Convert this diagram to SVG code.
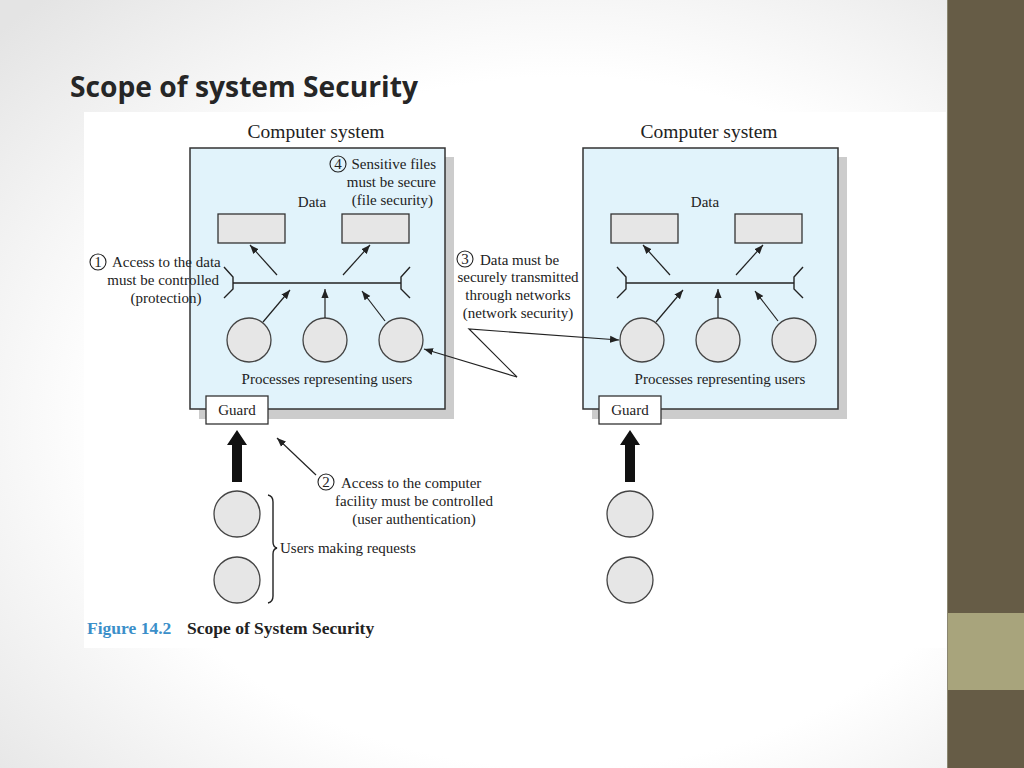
<svg xmlns="http://www.w3.org/2000/svg" width="1024" height="768" viewBox="0 0 1024 768">
<defs>
<radialGradient id="bg" cx="0.55" cy="0.55" r="0.75">
<stop offset="0.6" stop-color="#ffffff"/>
<stop offset="1" stop-color="#e4e4e4"/>
</radialGradient>
<marker id="ah" viewBox="0 0 10 10" refX="10" refY="5" markerWidth="9" markerHeight="9" markerUnits="userSpaceOnUse" orient="auto">
<path d="M0,1 L10,5 L0,9 z" fill="#222"/>
</marker>
<style>
.t{font-family:"Liberation Serif","Times New Roman",serif;fill:#222;font-size:15px}
.big{font-size:19.5px}
.box{fill:#e1f3fb;stroke:#333;stroke-width:1.5}
.sh{fill:#cccccc}
.dr{fill:#e6e6e6;stroke:#333;stroke-width:1.3}
.pc{fill:#e6e6e6;stroke:#444;stroke-width:1.3}
.ln{stroke:#222;stroke-width:1.4;fill:none}
.ar{stroke:#222;stroke-width:1.2;fill:none;marker-end:url(#ah)}
.num{fill:none;stroke:#222;stroke-width:1.1}
.g{fill:#fff;stroke:#333;stroke-width:1.3}
.cap{font-family:"Liberation Serif","Times New Roman",serif;font-weight:bold;font-size:17.5px}
</style>
</defs>
<rect width="1024" height="768" fill="url(#bg)"/>
<rect x="84" y="112" width="862" height="536" fill="#ffffff"/>
<!-- sidebar -->
<rect x="947" y="0" width="77" height="768" fill="#665c46"/>
<rect x="947" y="613" width="77" height="77" fill="#a8a47c"/>
<line x1="947.5" y1="0" x2="947.5" y2="768" stroke="#8a8670" stroke-width="1"/>
<text x="70" y="97" font-family="'Open Sans','Liberation Sans',sans-serif" font-weight="bold" font-size="28" fill="#262626" textLength="348" lengthAdjust="spacingAndGlyphs">Scope of system Security</text>

<!-- left computer system -->
<g id="system-left">
<rect class="sh" x="199" y="157" width="255" height="262"/>
<rect class="box" x="190" y="148" width="255" height="261"/>
<text class="t big" x="316" y="138" text-anchor="middle">Computer system</text>
<text class="t" x="312" y="207" text-anchor="middle">Data</text>
</g>
<g id="data-left-1"><rect class="dr" x="218" y="214" width="67" height="29"/></g>
<g id="data-left-2"><rect class="dr" x="342" y="214" width="67" height="29"/></g>
<g id="bus-left">
<line class="ln" x1="233" y1="283" x2="401" y2="283"/>
<polyline class="ln" points="224,267 233,277 233,289 224,298"/>
<polyline class="ln" points="410,267 401,277 401,289 410,298"/>
</g>
<g id="proc-left-1"><circle class="pc" cx="249" cy="340" r="22"/></g>
<g id="proc-left-2"><circle class="pc" cx="325" cy="340" r="22"/></g>
<g id="proc-left-3"><circle class="pc" cx="401" cy="340" r="22"/></g>
<text class="t" x="327" y="384" text-anchor="middle">Processes representing users</text>
<g id="guard-left"><rect class="g" x="206" y="396" width="62" height="28"/><text class="t" x="237" y="415" text-anchor="middle">Guard</text></g>

<!-- right computer system -->
<g id="system-right">
<rect class="sh" x="592" y="157" width="255" height="262"/>
<rect class="box" x="583" y="148" width="255" height="261"/>
<text class="t big" x="709" y="138" text-anchor="middle">Computer system</text>
<text class="t" x="705" y="207" text-anchor="middle">Data</text>
</g>
<g id="data-right-1"><rect class="dr" x="611" y="214" width="67" height="29"/></g>
<g id="data-right-2"><rect class="dr" x="735" y="214" width="67" height="29"/></g>
<g id="bus-right">
<line class="ln" x1="626" y1="283" x2="794" y2="283"/>
<polyline class="ln" points="617,267 626,277 626,289 617,298"/>
<polyline class="ln" points="803,267 794,277 794,289 803,298"/>
</g>
<g id="proc-right-1"><circle class="pc" cx="642" cy="340" r="22"/></g>
<g id="proc-right-2"><circle class="pc" cx="718" cy="340" r="22"/></g>
<g id="proc-right-3"><circle class="pc" cx="794" cy="340" r="22"/></g>
<text class="t" x="720" y="384" text-anchor="middle">Processes representing users</text>
<g id="guard-right"><rect class="g" x="599" y="396" width="62" height="28"/><text class="t" x="630" y="415" text-anchor="middle">Guard</text></g>

<!-- users -->
<g id="user-left-1"><circle class="pc" cx="237" cy="514" r="23"/></g>
<g id="user-left-2"><circle class="pc" cx="237" cy="580" r="23"/></g>
<g id="user-right-1"><circle class="pc" cx="630" cy="514" r="23"/></g>
<g id="user-right-2"><circle class="pc" cx="630" cy="580" r="23"/></g>
<path class="ln" d="M268,495 Q273,496 273,502 L273,542 Q273,547 277,548 Q273,549 273,554 L273,596 Q273,602 268,603"/>
<text class="t" x="280" y="553">Users making requests</text>

<!-- annotations -->
<g id="note-1">
<circle class="num" cx="98" cy="262" r="8"/><text class="t" x="98" y="267" text-anchor="middle" font-size="13">1</text>
<text class="t" x="112" y="267">Access to the data</text>
<text class="t" x="219" y="285" text-anchor="end">must be controlled</text>
<text class="t" x="166" y="303" text-anchor="middle">(protection)</text>
</g>
<g id="note-2">
<circle class="num" cx="326" cy="482" r="8"/><text class="t" x="326" y="487" text-anchor="middle" font-size="13">2</text>
<text class="t" x="341" y="488">Access to the computer</text>
<text class="t" x="414" y="506" text-anchor="middle">facility must be controlled</text>
<text class="t" x="414" y="524" text-anchor="middle">(user authentication)</text>
</g>
<g id="note-3">
<circle class="num" cx="465" cy="259" r="8"/><text class="t" x="465" y="264" text-anchor="middle" font-size="13">3</text>
<text class="t" x="480" y="265">Data must be</text>
<text class="t" x="518" y="282" text-anchor="middle">securely transmitted</text>
<text class="t" x="518" y="300" text-anchor="middle">through networks</text>
<text class="t" x="518" y="318" text-anchor="middle">(network security)</text>
</g>
<g id="note-4">
<circle class="num" cx="338" cy="164" r="8"/><text class="t" x="338" y="169" text-anchor="middle" font-size="13">4</text>
<text class="t" x="436" y="169" text-anchor="end">Sensitive files</text>
<text class="t" x="436" y="187" text-anchor="end">must be secure</text>
<text class="t" x="433" y="205" text-anchor="end">(file security)</text>
</g>

<!-- connectors -->
<g id="connectors">
<line class="ar" x1="277" y1="275" x2="250" y2="245"/>
<line class="ar" x1="343" y1="275" x2="370" y2="245"/>
<line class="ar" x1="263" y1="322" x2="290" y2="290"/>
<line class="ar" x1="325" y1="318" x2="325" y2="289"/>
<line class="ar" x1="385" y1="321" x2="362" y2="291"/>
<line class="ar" x1="670" y1="275" x2="643" y2="245"/>
<line class="ar" x1="736" y1="275" x2="763" y2="245"/>
<line class="ar" x1="656" y1="322" x2="683" y2="290"/>
<line class="ar" x1="718" y1="318" x2="718" y2="289"/>
<line class="ar" x1="778" y1="321" x2="755" y2="291"/>
<line class="ar" x1="517" y1="377" x2="424" y2="349"/>
<polyline class="ar" points="517,377 469,329 619,340"/>
<line class="ar" x1="316" y1="475" x2="277" y2="438"/>
<polygon points="232,482 242,482 242,445 247,445 237,430 227,445 232,445" fill="#111"/>
<polygon points="625,482 635,482 635,445 640,445 630,430 620,445 625,445" fill="#111"/>
</g>

<text class="cap" x="87" y="634" fill="#3b8fc9">Figure 14.2</text>
<text class="cap" x="187" y="634" fill="#222">Scope of System Security</text>
</svg>
